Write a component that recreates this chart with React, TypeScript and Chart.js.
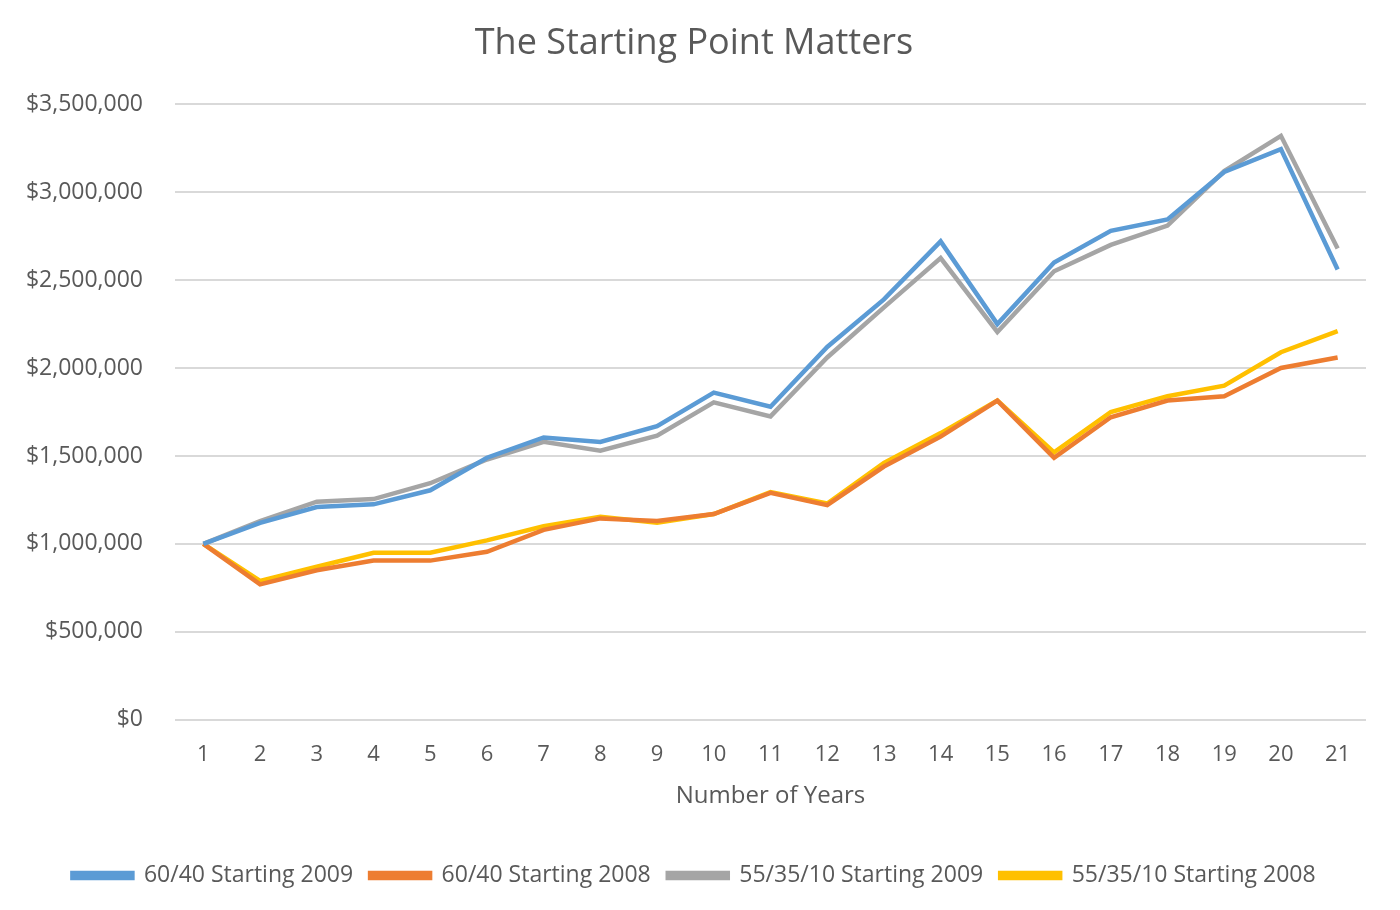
import { useEffect, useRef } from 'react';
import { Chart, registerables } from 'chart.js';

Chart.register(...registerables);

const years = ['1', '2', '3', '4', '5', '6', '7', '8', '9', '10', '11', '12', '13', '14', '15', '16', '17', '18', '19', '20', '21'];

const balanced2009 = [1000000, 1120000, 1210000, 1225000, 1305000, 1490000, 1605000, 1580000, 1670000, 1860000, 1780000, 2120000, 2390000, 2720000, 2250000, 2600000, 2780000, 2845000, 3115000, 3245000, 2560000];
const balanced2008 = [1000000, 770000, 850000, 905000, 905000, 955000, 1080000, 1145000, 1130000, 1170000, 1290000, 1220000, 1440000, 1610000, 1815000, 1490000, 1720000, 1815000, 1840000, 2000000, 2060000];
const diversified2009 = [1000000, 1130000, 1240000, 1255000, 1345000, 1480000, 1580000, 1530000, 1615000, 1805000, 1725000, 2060000, 2345000, 2625000, 2205000, 2550000, 2700000, 2810000, 3120000, 3320000, 2680000];
const diversified2008 = [1000000, 790000, 870000, 950000, 950000, 1020000, 1100000, 1155000, 1120000, 1170000, 1295000, 1230000, 1460000, 1630000, 1815000, 1520000, 1750000, 1840000, 1900000, 2090000, 2210000];

const yTicks = [0, 500000, 1000000, 1500000, 2000000, 2500000, 3000000, 3500000];

const FONT = '"Open Sans", sans-serif';
const TEXT = '#595959';

export default function App() {
  const canvasRef = useRef<HTMLCanvasElement>(null);

  useEffect(() => {
    document.body.style.margin = '0';
    if (!canvasRef.current) return;

    const mk = (label: string, data: number[], color: string) => ({
      label,
      data,
      borderColor: color,
      backgroundColor: color,
      borderWidth: 4.5,
      pointRadius: 0,
      tension: 0,
    });

    const chart = new Chart(canvasRef.current, {
      type: 'line',
      data: {
        labels: years,
        datasets: [
          mk('60/40 Starting 2009', balanced2009, '#5B9BD5'),
          mk('60/40 Starting 2008', balanced2008, '#ED7D31'),
          mk('55/35/10 Starting 2009', diversified2009, '#A5A5A5'),
          mk('55/35/10 Starting 2008', diversified2008, '#FFC000'),
        ],
      },
      options: {
        animation: false,
        responsive: false,
        layout: { padding: { left: 22, right: 34, top: 18, bottom: 13 } },
        plugins: {
          title: {
            display: true,
            text: 'The Starting Point Matters',
            color: TEXT,
            font: { family: FONT, size: 36, weight: 'normal' },
            padding: { top: 4, bottom: 39 },
          },
          legend: {
            position: 'bottom',
            labels: {
              color: TEXT,
              font: { family: FONT, size: 23 },
              boxWidth: 60,
              boxHeight: 5,
              padding: 17,
            },
          },
          tooltip: { enabled: false },
        },
        scales: {
          x: {
            offset: true,
            grid: { display: false },
            border: { display: false },
            ticks: { color: TEXT, font: { family: FONT, size: 22 }, padding: 14 },
            title: {
              display: true,
              text: 'Number of Years',
              color: TEXT,
              font: { family: FONT, size: 24 },
              padding: { top: 0, bottom: 36 },
            },
          },
          y: {
            min: 0,
            max: 3500000,
            afterBuildTicks: (axis: any) => {
              axis.ticks = yTicks.map(v => ({ value: v }));
            },
            afterFit: (axis: any) => {
              axis.width = 153;
            },
            grid: { color: '#D9D9D9', lineWidth: 2, drawTicks: false },
            border: { display: false },
            ticks: {
              color: TEXT,
              font: { family: FONT, size: 23 },
              padding: 32,
              callback: (v: any) => '$' + Number(v).toLocaleString('en-US'),
            },
          },
        },
      },
    });

    return () => { chart.destroy(); };
  }, []);

  return (
    <div style={{ width: 1400, height: 910, background: '#fff' }}>
      <canvas ref={canvasRef} width={1400} height={910} />
    </div>
  );
}
